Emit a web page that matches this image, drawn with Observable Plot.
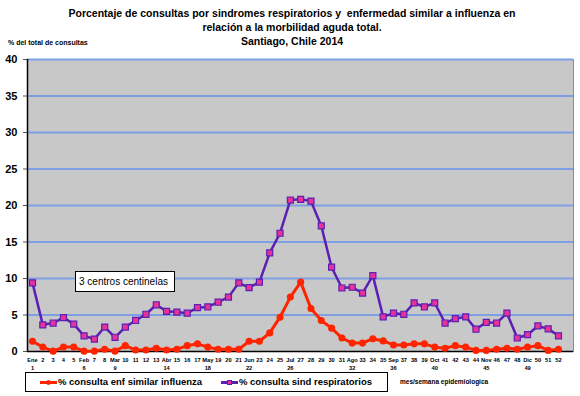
<!DOCTYPE html>
<html>
<head>
<meta charset="utf-8">
<script src="https://cdn.jsdelivr.net/npm/d3@7"></script>
<script src="https://cdn.jsdelivr.net/npm/@observablehq/plot@0.6"></script>
<style>
  html, body { margin: 0; padding: 0; background: #fff; }
  #wrap { position: relative; width: 580px; height: 396px; font-family: "Liberation Sans", Arial, sans-serif; }
  #wrap svg { position: absolute; left: 0; top: 0; }
  .abs { position: absolute; white-space: nowrap; }
  #title { left: 0; width: 580px; top: 6px; text-align: center; font-weight: bold; font-size: 10.5px; line-height: 14px; padding-left: 4px; box-sizing: border-box; }
  #ylab { left: 8px; top: 39px; font-weight: bold; font-size: 7px; }
  #note { left: 75px; top: 271px; width: 100px; height: 21px; box-sizing: border-box; background: #fff; border: 1px solid #000; font-size: 10px; line-height: 19px; padding-left: 3px; }
  #legend { left: 25px; top: 372px; width: 363px; height: 20px; box-sizing: border-box; border: 1px solid #000; background: #fff; font-weight: bold; font-size: 9.5px; line-height: 18px; }
  .item { position: absolute; top: 0; }
  .sw { display: inline-block; position: relative; width: 17px; height: 10px; vertical-align: middle; margin-right: 1px; }
  .sw .ln { position: absolute; left: 0; right: 0; top: 4px; height: 2.5px; }
  .sw .mk { position: absolute; left: 6px; top: 2.5px; width: 5px; height: 5px; }
  #xlab { left: 400px; top: 378px; font-weight: bold; font-size: 6.5px; }
</style>
</head>
<body>
<div id="wrap">
  <div id="title" class="abs">Porcentaje de consultas por sindromes respiratorios y&nbsp; enfermedad similar a influenza en<br>relación a la morbilidad aguda total.<br>Santiago, Chile 2014</div>
  <div id="ylab" class="abs">% del total de consultas</div>
</div>
<script>
const weeks = d3.range(1, 53);
const weekLabels = ["Ene\n1","2","3","4","5","Feb\n6","7","8","Mar\n9","10","11","12","13","Abr\n14","15","16","17","May\n18","19","20","21","Jun\n22","23","24","25","Jul\n26","27","28","29","30","31","Ago\n32","33","34","35","Sep\n36","37","38","39","Oct\n40","41","42","43","44","Nov\n45","46","47","48","Dic\n49","50","51","52"];
const influenza = [1.4,0.6,0.05,0.6,0.6,0.05,0.05,0.3,0.05,0.8,0.2,0.2,0.45,0.2,0.3,0.8,1.05,0.6,0.3,0.3,0.3,1.4,1.4,2.55,4.7,7.45,9.5,5.9,4.25,3.2,1.85,1.15,1.15,1.75,1.45,0.9,0.9,1.05,1.05,0.6,0.45,0.8,0.6,0.15,0.15,0.3,0.45,0.3,0.6,0.8,0.15,0.3];
const respiratorios = [9.4,3.65,3.9,4.65,3.75,2.15,1.7,3.35,1.95,3.35,4.25,5.1,6.4,5.5,5.4,5.25,6.0,6.1,6.75,7.45,9.4,8.75,9.5,13.5,16.2,20.75,20.85,20.6,17.2,11.55,8.7,8.8,8.0,10.4,4.75,5.25,5.1,6.65,6.1,6.65,3.9,4.5,4.75,3.05,4.0,3.9,5.25,1.85,2.3,3.5,3.1,2.15];
const yTicks = [0,5,10,15,20,25,30,35,40];
const seriesNames = ["% consulta enf similar influenza", "% consulta sind respiratorios"];
const noteText = "3 centros centinelas";
const xAxisTitle = "mes/semana epidemiologica";

const red = "#ff2400", purple = "#5a20b4", pink = "#e8329a";
const dataInf = weeks.map((w, i) => ({w, v: influenza[i]}));
const dataResp = weeks.map((w, i) => ({w, v: respiratorios[i]}));

const chart = Plot.plot({
  width: 580, height: 396,
  marginLeft: 27, marginRight: 7, marginTop: 59, marginBottom: 45,
  style: {fontFamily: "Liberation Sans, Arial, sans-serif", background: "transparent", overflow: "visible"},
  x: {domain: [0.515, 53.454], axis: null},
  y: {domain: [0, 40], axis: null},
  marks: [
    Plot.frame({fill: "#c8c8c8", stroke: "#8a8a8a", strokeWidth: 1}),
    Plot.ruleY(yTicks.filter(d => d > 0), {stroke: "#7f9fe3", strokeWidth: 2}),
    Plot.axisY({ticks: yTicks, tickSize: 4, tickPadding: 6, fontSize: 11, fontWeight: "bold", stroke: "#555", color: "#000", label: null}),
    Plot.axisX({ticks: weeks, tickFormat: (d) => weekLabels[d - 1], tickSize: 0, tickPadding: 5, fontSize: 5.7, fontWeight: "bold", lineHeight: 1.35, color: "#000", label: null}),
    Plot.ruleX([0.515], {stroke: "#000", strokeWidth: 1.5}),
    Plot.ruleY([0], {stroke: "#000", strokeWidth: 1.5}),
    Plot.line(dataInf, {x: "w", y: "v", stroke: red, strokeWidth: 3}),
    Plot.dot(dataInf, {x: "w", y: "v", r: 2.8, fill: red, stroke: red}),
    Plot.line(dataResp, {x: "w", y: "v", stroke: purple, strokeWidth: 2.5}),
    Plot.dot(dataResp, {x: "w", y: "v", symbol: "square", r: 3.4, fill: pink, stroke: purple, strokeWidth: 1.2})
  ]
});
const wrap = document.getElementById("wrap");
wrap.insertBefore(chart, wrap.firstChild);

const note = document.createElement("div");
note.id = "note"; note.className = "abs"; note.textContent = noteText;
wrap.appendChild(note);

const legend = document.createElement("div");
legend.id = "legend"; legend.className = "abs";
const lefts = [14, 195];
const colors = [[red, red, "50%"], [purple, pink, "0"]];
seriesNames.forEach((name, i) => {
  const it = document.createElement("span");
  it.className = "item"; it.style.left = lefts[i] + "px";
  const sw = document.createElement("span"); sw.className = "sw";
  const ln = document.createElement("span"); ln.className = "ln"; ln.style.background = colors[i][0];
  const mk = document.createElement("span"); mk.className = "mk";
  mk.style.background = colors[i][1]; mk.style.borderRadius = colors[i][2];
  mk.style.boxSizing = "border-box"; mk.style.border = "1px solid " + colors[i][0];
  sw.appendChild(ln); sw.appendChild(mk);
  it.appendChild(sw);
  it.appendChild(document.createTextNode(name));
  legend.appendChild(it);
});
wrap.appendChild(legend);

const xl = document.createElement("div");
xl.id = "xlab"; xl.className = "abs"; xl.textContent = xAxisTitle;
wrap.appendChild(xl);
</script>
</body>
</html>
